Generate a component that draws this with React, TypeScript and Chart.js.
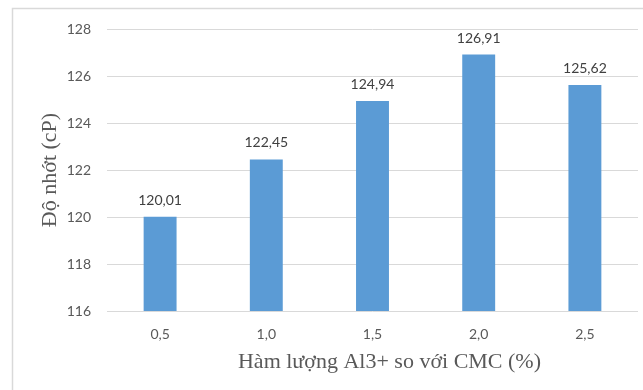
import React, { useEffect, useRef } from "react";
import { Chart, registerables } from "chart.js";

Chart.register(...registerables);

// Aluminium content relative to CMC (%), and measured viscosity (cP)
const categories: string[] = ["0,5", "1,0", "1,5", "2,0", "2,5"];
const viscosity: number[] = [120.01, 122.45, 124.94, 126.91, 125.62];
const yTicks: number[] = [116, 118, 120, 122, 124, 126, 128];

const xTitle = "Hàm lượng Al3+ so với CMC (%)";
const yTitle = "Độ nhớt (cP)";

const BAR_COLOR = "#5B9BD5";
const GRID_COLOR = "#D9D9D9";
const TEXT_COLOR = "#595959";
const LABEL_COLOR = "#404040";
const SANS = "Lato, 'Noto Sans', sans-serif";
const SERIF = "'Liberation Serif', 'DejaVu Serif', serif";

const fmt = (v: number) => v.toFixed(2).replace(".", ",");

// Light frame around the chart and value labels above each bar
const decorations = {
  id: "decorations",
  beforeDraw(chart: any) {
    const { ctx } = chart;
    ctx.save();
    ctx.fillStyle = "#ffffff";
    ctx.fillRect(0, 0, chart.width, chart.height);
    ctx.strokeStyle = GRID_COLOR;
    ctx.lineWidth = 1.5;
    ctx.strokeRect(12.5, 8.5, chart.width + 40, chart.height + 40);
    ctx.restore();
  },
  afterDatasetsDraw(chart: any) {
    const { ctx } = chart;
    const meta = chart.getDatasetMeta(0);
    const data = chart.data.datasets[0].data as number[];
    ctx.save();
    ctx.font = `14px ${SANS}`;
    ctx.fillStyle = LABEL_COLOR;
    ctx.textAlign = "center";
    ctx.textBaseline = "alphabetic";
    meta.data.forEach((bar: any, i: number) => {
      ctx.fillText(fmt(data[i]), bar.x, bar.y - 12);
    });
    ctx.restore();
  },
  afterDraw(chart: any) {
    const { ctx, chartArea } = chart;
    ctx.save();
    ctx.font = `22px ${SERIF}`;
    ctx.fillStyle = TEXT_COLOR;
    ctx.textAlign = "center";
    ctx.textBaseline = "alphabetic";
    ctx.fillText(xTitle, (chartArea.left + chartArea.right) / 2 + 17, chartArea.bottom + 57);
    ctx.restore();
  },
};

export default function App() {
  const canvasRef = useRef<HTMLCanvasElement | null>(null);

  useEffect(() => {
    if (!canvasRef.current) return;
    const chart = new Chart(canvasRef.current, {
      type: "bar",
      data: {
        labels: categories,
        datasets: [
          {
            data: viscosity,
            backgroundColor: BAR_COLOR,
            borderWidth: 0,
            categoryPercentage: 1,
            barPercentage: 0.31,
          },
        ],
      },
      options: {
        responsive: false,
        animation: false,
        layout: { padding: { left: 0, right: 5, top: 29, bottom: 0 } },
        plugins: {
          legend: { display: false },
          tooltip: { enabled: false },
        },
        scales: {
          x: {
            grid: { display: false, drawTicks: false },
            border: { display: false },
            ticks: {
              color: TEXT_COLOR,
              font: { family: SANS, size: 14 },
              padding: 15,
            },
            afterFit: (scale: any) => {
              scale.height = 79;
            },
          },
          y: {
            min: 116,
            max: 128,
            afterBuildTicks: (scale: any) => {
              scale.ticks = yTicks.map((v) => ({ value: v }));
            },
            grid: { color: GRID_COLOR, lineWidth: 1, drawTicks: false },
            border: { display: false },
            ticks: {
              color: TEXT_COLOR,
              font: { family: SANS, size: 14 },
              padding: 16,
            },
            title: {
              display: true,
              text: yTitle,
              color: TEXT_COLOR,
              font: { family: SERIF, size: 22 },
              padding: { top: 37, bottom: 0 },
            },
            afterFit: (scale: any) => {
              scale.width = 107;
            },
          },
        },
      },
      plugins: [decorations],
    });
    return () => chart.destroy();
  }, []);

  return (
    <div style={{ position: "absolute", left: 0, top: 0, width: 643, height: 390, background: "#fff" }}>
      <canvas ref={canvasRef} width={643} height={390} style={{ display: "block" }} />
    </div>
  );
}
